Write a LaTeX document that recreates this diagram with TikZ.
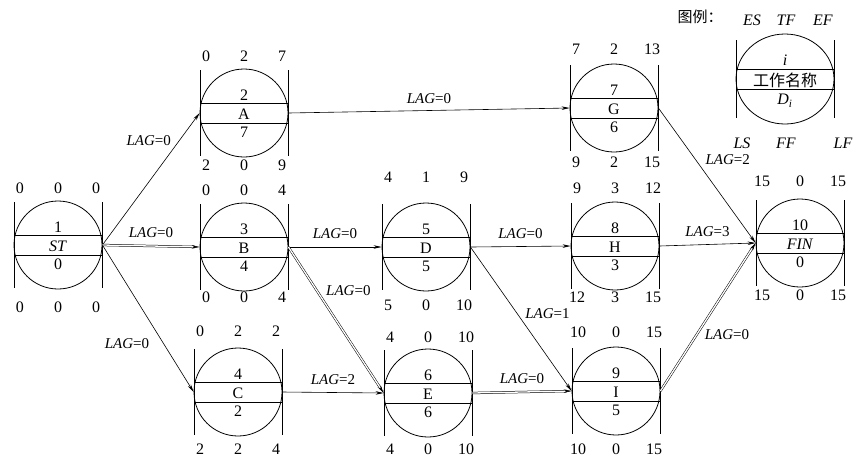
\documentclass[tikz,border=0pt]{standalone}
\usepackage{fontspec}
\setmainfont{Liberation Serif}
\newfontfamily\cjk{Noto Sans CJK SC}
\usetikzlibrary{arrows.meta,positioning,shapes.geometric}
\tikzstyle{work} = [circle, draw, minimum size=88pt, inner sep=0pt, line width=0.8pt]
\tikzstyle{arrow} = [line width=0.6pt,-{Stealth[length=8pt,width=3.5pt]}]
\tikzstyle{crit} = [arrow, double, double distance=1.3pt, line width=0.5pt]
\tikzstyle{lag} = [font=\fontsize{15}{17}\selectfont, inner sep=0pt]
\tikzstyle{num} = [font=\fontsize{16}{18}\selectfont, inner sep=0pt]

% #1 name, #2 centre, #3 i, #4 work, #5 D, #6/#7 top offset/numbers, #8/#9 bottom offset/numbers
\newcommand{\actnode}[9]{%
  \node[work] (#1) at (#2) {};
  \draw[line width=0.8pt] ([shift={(-44,-10)}]#1.center) -- ([shift={(44,-10)}]#1.center)
    ([shift={(-44,10)}]#1.center) -- ([shift={(44,10)}]#1.center)
    ([shift={(-44,-43)}]#1.center) -- ([shift={(-44,43)}]#1.center)
    ([shift={(44,-43)}]#1.center) -- ([shift={(44,43)}]#1.center);
  \node[num] at ([shift={(0,-18)}]#1.center) {#3};
  \node[num] at ([shift={(0,1)}]#1.center) {#4};
  \node[num] at ([shift={(0,19)}]#1.center) {#5};
  \foreach \a/\b/\c in {#7}{
    \node[num] at ([shift={(-38,#6)}]#1.center) {\a};
    \node[num] at ([shift={(0,#6)}]#1.center) {\b};
    \node[num] at ([shift={(38,#6)}]#1.center) {\c};
  }
  \foreach \a/\b/\c in {#9}{
    \node[num] at ([shift={(-38,#8)}]#1.center) {\a};
    \node[num] at ([shift={(0,#8)}]#1.center) {\b};
    \node[num] at ([shift={(38,#8)}]#1.center) {\c};
  }
}

\begin{document}
\begin{tikzpicture}[x=1pt, y=-1pt]
    \useasboundingbox (0,0) rectangle (856,459);
    % work nodes
    \actnode{ST}{58,245}{1}{\textit{ST}}{0}{-57}{0/0/0}{62}{0/0/0}
    \actnode{A}{244,113}{2}{A}{7}{-57}{0/2/7}{52}{2/0/9}
    \actnode{B}{244,247}{3}{B}{4}{-57}{0/0/4}{50}{0/0/4}
    \actnode{C}{238,392}{4}{C}{2}{-61}{0/2/2}{57}{2/2/4}
    \actnode{D}{426,247}{5}{D}{5}{-70}{4/1/9}{58}{5/0/10}
    \actnode{E}{428,393}{6}{E}{6}{-56}{4/0/10}{56}{4/0/10}
    \actnode{G}{614,108}{7}{G}{6}{-59}{7/2/13}{54}{9/2/15}
    \actnode{H}{615,246}{8}{H}{3}{-58}{9/3/12}{51}{12/3/15}
    \actnode{I}{616,391}{9}{I}{5}{-59}{10/0/15}{58}{10/0/15}
    \actnode{FIN}{800,243}{10}{\textit{FIN}}{0}{-62}{15/0/15}{52}{15/0/15}

    % links
    \draw[arrow] (ST.east) -- node[lag, pos=0.79, left=8pt] {\textit{LAG}=0} (A.west);
    \draw[crit] (ST.east) -- node[lag, above=8pt] {\textit{LAG}=0} (B.west);
    \draw[arrow] (ST.east) -- node[lag, pos=0.67, left=14pt] {\textit{LAG}=0} (C.west);
    \draw[arrow] (A.east) -- node[lag, above=7pt] {\textit{LAG}=0} (G.west);
    \draw[arrow] (B.east) -- node[lag, above=8pt] {\textit{LAG}=0} (D.west);
    \draw[crit] (B.east) -- node[lag, pos=0.3, right=9pt] {\textit{LAG}=0} (E.west);
    \draw[arrow] (C.east) -- node[lag, above=8pt] {\textit{LAG}=2} (E.west);
    \draw[arrow] (D.east) -- node[lag, above=8pt] {\textit{LAG}=0} (H.west);
    \draw[arrow] (D.east) -- node[lag, pos=0.46, right=8pt] {\textit{LAG}=1} (I.west);
    \draw[crit] (E.east) -- node[lag, above=8pt] {\textit{LAG}=0} (I.west);
    \draw[arrow] (G.east) -- node[lag, pos=0.38, right=10pt] {\textit{LAG}=2} (FIN.west);
    \draw[arrow] (H.east) -- node[lag, above=8pt] {\textit{LAG}=3} (FIN.west);
    \draw[crit] (I.east) -- node[lag, pos=0.38, right=8pt] {\textit{LAG}=0} (FIN.west);

    % legend
    \node[num, font=\cjk\fontsize{15}{17}\selectfont] (legtitle) at (700,17) {图例：};
    \node[ellipse, draw, line width=0.8pt, minimum width=98pt, minimum height=90pt, inner sep=0pt] (legend) at (785,79) {};
    \draw[line width=0.8pt] ([shift={(-49,-10)}]legend.center) -- ([shift={(49,-10)}]legend.center)
        ([shift={(-49,10)}]legend.center) -- ([shift={(49,10)}]legend.center)
        ([shift={(-49,-39)}]legend.center) -- ([shift={(-49,39)}]legend.center)
        ([shift={(49,-39)}]legend.center) -- ([shift={(49,39)}]legend.center);
    \node[num] (legi) at (785,60) {\textit{i}};
    \node[num, font=\cjk\fontsize{16}{18}\selectfont] (legname) at (785,80) {工作名称};
    \node[num] (legd) at (785,101) {\textit{D}\textsubscript{\textit{i}}};
    \node[num] (es) at (752,20) {\textit{ES}};
    \node[num] (tf) at (786,20) {\textit{TF}};
    \node[num] (ef) at (823,20) {\textit{EF}};
    \node[num] (ls) at (742,143) {\textit{LS}};
    \node[num] (ff) at (786,143) {\textit{FF}};
    \node[num] (lf) at (843,143) {\textit{LF}};
\end{tikzpicture}
\end{document}
